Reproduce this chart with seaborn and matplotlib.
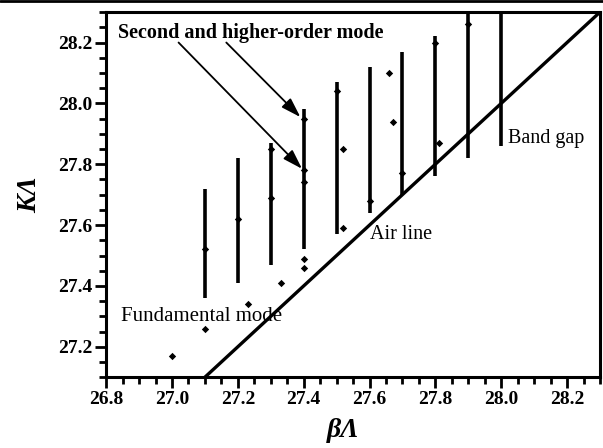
import numpy as np
import pandas as pd
import matplotlib
matplotlib.use("Agg")
import matplotlib.pyplot as plt
from matplotlib.ticker import MultipleLocator
from matplotlib.lines import Line2D
import seaborn as sns

# ---- data ----
band_beta = [27.1, 27.2, 27.3, 27.4, 27.5, 27.6, 27.7, 27.8, 27.9, 28.0]
band_low = [27.36, 27.41, 27.47, 27.52, 27.57, 27.64, 27.70, 27.76, 27.82, 27.86]
band_high = [27.72, 27.82, 27.87, 27.98, 28.07, 28.12, 28.17, 28.22, 28.35, 28.35]

fund_beta = [27.0, 27.1, 27.23, 27.33, 27.4, 27.4, 27.52, 27.6, 27.7, 27.81]
fund_K = [27.17, 27.26, 27.34, 27.41, 27.46, 27.49, 27.59, 27.68, 27.77, 27.87]

higher_beta = [27.1, 27.2, 27.3, 27.3, 27.4, 27.4, 27.4, 27.5, 27.52, 27.66, 27.67, 27.8, 27.9]
higher_K = [27.52, 27.62, 27.69, 27.85, 27.74, 27.78, 27.95, 28.04, 27.85, 28.10, 27.94, 28.20, 28.26]

air_beta = [27.1, 28.3]
air_K = [27.1, 28.3]

x_ticks = [26.8, 27.0, 27.2, 27.4, 27.6, 27.8, 28.0, 28.2]
y_ticks = [27.2, 27.4, 27.6, 27.8, 28.0, 28.2]

sns.set_theme(style="white")
plt.rcParams['font.family'] = ['Liberation Serif', 'DejaVu Serif']
plt.rcParams['text.color'] = 'black'
plt.rcParams['axes.labelcolor'] = 'black'

fig = plt.figure(figsize=(6.03, 4.48), dpi=100)
ax = fig.add_axes([0.176, 0.158, 0.819, 0.815])

# bands
ax.vlines(band_beta, band_low, band_high, colors='black', linewidth=2.6, zorder=3)

pts = pd.DataFrame({
    'beta': fund_beta + higher_beta,
    'K': fund_K + higher_K,
})
sns.scatterplot(data=pts, x='beta', y='K', marker='D', s=14, color='black',
                edgecolor='black', linewidth=0, ax=ax, zorder=4)

air = pd.DataFrame({'beta': air_beta, 'K': air_K})
sns.lineplot(data=air, x='beta', y='K', color='black', linewidth=2.4, ax=ax, zorder=3)

ax.set_xlim(26.8, 28.3)
ax.set_ylim(27.1, 28.3)
ax.set_xticks(x_ticks)
ax.set_yticks(y_ticks)
ax.xaxis.set_minor_locator(MultipleLocator(0.05))
ax.yaxis.set_minor_locator(MultipleLocator(0.05))
ax.tick_params(which='major', direction='out', length=8, width=2, colors='black',
               labelcolor='black', bottom=True, left=True, labelsize=14, pad=2)
ax.tick_params(which='minor', direction='out', length=5, width=2, colors='black',
               bottom=True, left=True)
for lab in ax.get_xticklabels() + ax.get_yticklabels():
    lab.set_fontweight('bold')
for sp in ax.spines.values():
    sp.set_color('black')
    sp.set_linewidth(2.2)

ax.set_xlabel('βΛ', fontsize=20, fontstyle='italic', fontweight='bold')
ax.xaxis.set_label_coords(0.48, -0.112)
ax.set_ylabel('KΛ', fontsize=20, fontstyle='italic', fontweight='bold', labelpad=11)

ax.text(26.835, 28.23, 'Second and higher-order mode', fontsize=14.5, fontweight='bold',
        va='center', ha='left')
ax.text(26.845, 27.30, 'Fundamental mode', fontsize=15, va='center', ha='left')
ax.text(27.6, 27.57, 'Air line', fontsize=14.5, va='center', ha='left')
ax.text(28.02, 27.885, 'Band gap', fontsize=14.5, va='center', ha='left')

arrowprops = dict(arrowstyle='-|>,head_length=1.0,head_width=0.32', color='black',
                  lw=1.3, shrinkA=0, shrinkB=0)
ax.annotate('', xy=(27.395, 27.785), xytext=(27.02, 28.2), arrowprops=arrowprops)
ax.annotate('', xy=(27.39, 27.955), xytext=(27.165, 28.2), arrowprops=arrowprops)

# scan border line at the top of the picture
fig.add_artist(Line2D([0, 1], [0.997, 0.997], transform=fig.transFigure,
                      color='black', linewidth=2))

fig.savefig('out.png', dpi=100)
